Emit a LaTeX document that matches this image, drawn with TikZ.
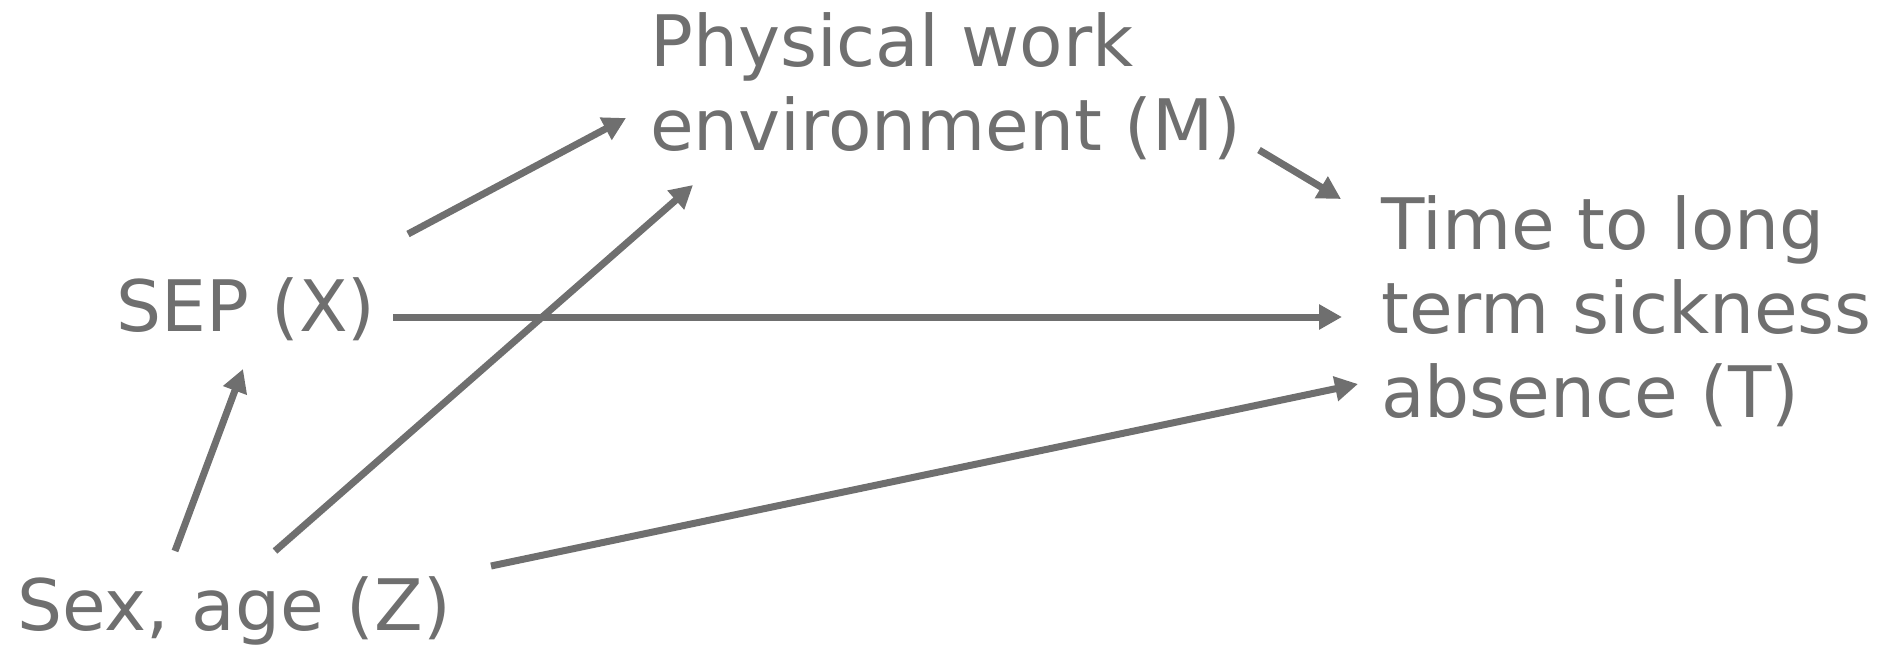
\documentclass[tikz,border=0pt]{standalone}
\usepackage{fontspec}
\setmainfont{DejaVu Sans}
\usetikzlibrary{arrows.meta}
\definecolor{dgray}{HTML}{6F6F6F}
\tikzset{
  lbl/.style={anchor=base west, inner sep=0pt, text=dgray, font=\fontsize{71}{84}\selectfont},
  conn/.style={draw=dgray, line width=7pt, -{Triangle[length=23pt,width=24pt]}}
}
\begin{document}
\begin{tikzpicture}[x=1pt,y=-1pt]
\useasboundingbox (0,0) rectangle (1883,645);
% labels
\node[lbl] (M1) at (650,66) {Physical work};
\node[lbl] (M2) at (650,150) {environment (M)};
\node[lbl] (T1) at (1381,249) {Time to long};
\node[lbl] (T2) at (1381,333) {term sickness};
\node[lbl] (T3) at (1381,417) {absence (T)};
\node[lbl] (X) at (116,331) {SEP (X)};
\node[lbl] (Z) at (17,630) {Sex, age (Z)};
% connector ends
\coordinate (xm0) at (408,234); \coordinate (xm1) at (626,118);
\coordinate (mt0) at (1259,150); \coordinate (mt1) at (1341,199);
\coordinate (xt0) at (393,317); \coordinate (xt1) at (1342,317);
\coordinate (zx0) at (175,551); \coordinate (zx1) at (243,369);
\coordinate (zm0) at (275,551); \coordinate (zm1) at (693,185);
\coordinate (zt0) at (491,566); \coordinate (zt1) at (1358,384);
\draw[conn] (xm0) -- (xm1);
\draw[conn] (mt0) -- (mt1);
\draw[conn] (xt0) -- (xt1);
\draw[conn] (zx0) -- (zx1);
\draw[conn] (zm0) -- (zm1);
\draw[conn] (zt0) -- (zt1);
\end{tikzpicture}
\end{document}
